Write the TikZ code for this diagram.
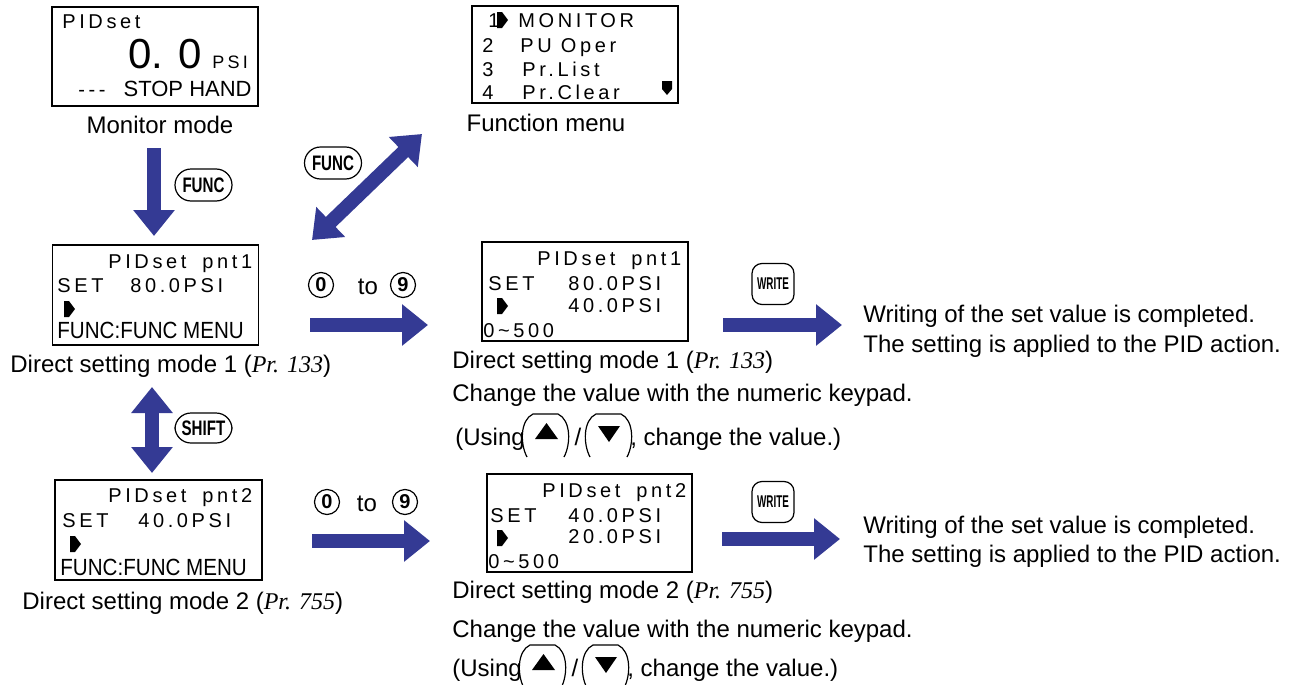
\documentclass[tikz,border=0pt]{standalone}
\usepackage{fontspec}
\setmainfont{Liberation Sans}
\newfontfamily\lcdfont[LetterSpace=18]{Liberation Sans}
\newfontfamily\narrowfont[FakeStretch=0.88]{Liberation Sans}
\newfontfamily\keyfont[FakeStretch=0.72]{Liberation Sans}
\newfontfamily\writefont[FakeStretch=0.58]{Liberation Sans}
\newfontfamily\prfont{Liberation Serif}
\usetikzlibrary{arrows.meta, positioning}
\definecolor{padblue}{RGB}{52,58,148}
\newcommand{\pr}[1]{{\prfont\itshape Pr. #1}}
\newcommand{\lcdptr}[2]{\fill (#1,#2-8) -- (#1+5,#2-8) -- (#1+11,#2) -- (#1+5,#2+8) -- (#1,#2+8) -- cycle;}
\tikzstyle{lcd} = [rectangle, draw=black, line width=0.9pt, minimum width=103pt, minimum height=49.5pt, inner sep=0pt]
\tikzstyle{lcdtext} = [anchor=base west, inner sep=0pt, font=\lcdfont\fontsize{10}{12}\selectfont]
\tikzstyle{menutext} = [anchor=base west, inner sep=0pt, font=\narrowfont\fontsize{11.7}{13}\selectfont]
\tikzstyle{caption} = [anchor=base west, inner sep=0pt, font=\fontsize{12}{14}\selectfont]
\tikzstyle{key} = [rectangle, rounded corners=8pt, draw=black, line width=0.6pt, inner sep=0pt, minimum width=28.5pt, minimum height=16pt, font=\keyfont\bfseries\fontsize{10.5}{12}\selectfont]
\tikzstyle{writekey} = [key, rounded corners=5pt, minimum width=21pt, minimum height=20.5pt, font=\writefont\bfseries\fontsize{8.5}{10}\selectfont]
\tikzstyle{digit} = [circle, draw=black, line width=0.6pt, inner sep=0pt, minimum size=12.5pt, font=\bfseries\fontsize{10}{12}\selectfont]
\tikzstyle{bigarrow} = [line width=7pt, draw=padblue, -{Triangle[width=20pt,length=13pt]}]
\tikzstyle{dblarrow} = [line width=7pt, draw=padblue, {Triangle[width=20pt,length=13pt]}-{Triangle[width=20pt,length=13pt]}]

\begin{document}
\begin{tikzpicture}[x=0.5pt, y=-0.5pt]
    \useasboundingbox (0,0) rectangle (1290,685);

    % monitor mode
    \node (mon) [lcd] at (155,56.5) {};
    \node (mon-a) [lcdtext] at (62,28) {PIDset};
    \node (mon-b) [anchor=base west, inner sep=0pt, font=\fontsize{21}{24}\selectfont] at (128,68) {0. 0};
    \node (mon-c) [lcdtext, font=\lcdfont\fontsize{9}{11}\selectfont] at (212,68) {PSI};
    \node (mon-d) [lcdtext] at (78,96) {-{}-{}-};
    \node (mon-e) [anchor=base east, inner sep=0pt, font=\fontsize{11}{13}\selectfont] at (252,96) {STOP HAND};
    \node (cap-mon) [caption, anchor=base] at (160,133) {Monitor mode};

    % function menu
    \node (fm) [lcd, minimum height=48.5pt] at (575,54.5) {};
    \node (fm-1) [lcdtext] at (488,27) {1};
    \lcdptr{497}{20}
    \node (fm-1t) [lcdtext] at (518,27) {MONITOR};
    \node (fm-2) [lcdtext] at (482,52) {2};
    \node (fm-2t) [lcdtext] at (520,52) {PU Oper};
    \node (fm-3) [lcdtext] at (482,76) {3};
    \node (fm-3t) [lcdtext] at (522,76) {Pr.List};
    \node (fm-4) [lcdtext] at (482,99) {4};
    \node (fm-4t) [lcdtext] at (522,99) {Pr.Clear};
    \fill (662,81) -- (672,81) -- (672,89) -- (667,95) -- (662,89) -- cycle;
    \node (cap-fm) [caption, anchor=base] at (546,131) {Function menu};

    % direct setting mode 1
    \node (s1) [lcd, minimum height=50pt] at (155.5,295) {};
    \node (s1-a) [lcdtext] at (108,268) {PIDset\hspace{8pt}pnt1};
    \node (s1-b) [lcdtext] at (57,292) {SET};
    \node (s1-c) [lcdtext] at (130,292) {80.0PSI};
    \lcdptr{64}{309}
    \node (s1-d) [menutext] at (57,338) {FUNC:FUNC MENU};
    \node (cap-s1) [caption] at (10,372) {Direct setting mode 1 (\pr{133})};

    % direct setting mode 2
    \node (s2) [lcd, minimum width=103.5pt, minimum height=50pt] at (158.5,530) {};
    \node (s2-a) [lcdtext] at (108,502) {PIDset\hspace{8pt}pnt2};
    \node (s2-b) [lcdtext] at (62,527) {SET};
    \node (s2-c) [lcdtext] at (138,527) {40.0PSI};
    \lcdptr{70}{544}
    \node (s2-d) [menutext] at (60,575) {FUNC:FUNC MENU};
    \node (cap-s2) [caption] at (22,609) {Direct setting mode 2 (\pr{755})};

    % editing pnt1
    \node (e1) [lcd] at (585,291.5) {};
    \node (e1-a) [lcdtext] at (537,265) {PIDset\hspace{8pt}pnt1};
    \node (e1-b) [lcdtext] at (488,290) {SET};
    \node (e1-c) [lcdtext] at (568,290) {80.0PSI};
    \lcdptr{497}{306}
    \node (e1-d) [lcdtext] at (568,312) {40.0PSI};
    \node (e1-e) [lcdtext] at (483,337) {0\textasciitilde500};
    \node (cap-e1) [caption] at (452,368) {Direct setting mode 1 (\pr{133})};
    \node (chg1) [caption] at (452,401) {Change the value with the numeric keypad.};

    % editing pnt2
    \node (e2) [lcd, minimum width=102.5pt, minimum height=49pt] at (589.5,523) {};
    \node (e2-a) [lcdtext] at (542,497) {PIDset\hspace{8pt}pnt2};
    \node (e2-b) [lcdtext] at (490,522) {SET};
    \node (e2-c) [lcdtext] at (568,522) {40.0PSI};
    \lcdptr{497}{538}
    \node (e2-d) [lcdtext] at (568,543) {20.0PSI};
    \node (e2-e) [lcdtext] at (488,568) {0\textasciitilde500};
    \node (cap-e2) [caption] at (452,598) {Direct setting mode 2 (\pr{755})};
    \node (chg2) [caption] at (452,637) {Change the value with the numeric keypad.};

    % (Using up / down ...)
    \foreach \n/\dx/\dy in {1/0/0, 2/-3/231} {
        \begin{scope}[shift={(\dx,\dy)}]
            \node (use\n) [caption] at (455,445) {(Using};
            \draw [line width=0.6pt] (527,457) .. controls (520,444) and (520,420) .. (533,414) -- (558,414) .. controls (571,420) and (571,444) .. (564,457);
            \fill (535,439) -- (558,439) -- (546.5,423) -- cycle;
            \node (sl\n) [caption, anchor=base] at (578,445) {/};
            \draw [line width=0.6pt] (590,457) .. controls (583,444) and (583,420) .. (596,414) -- (621,414) .. controls (634,420) and (634,444) .. (627,457);
            \fill (598,426) -- (620,426) -- (609,442) -- cycle;
            \node (cv\n) [caption] at (630,445) {, change the value.)};
        \end{scope}
    }

    % result texts
    \node (done1) [caption] at (863,322) {Writing of the set value is completed.};
    \node (pid1) [caption] at (863,352) {The setting is applied to the PID action.};
    \node (done2) [caption] at (863,533) {Writing of the set value is completed.};
    \node (pid2) [caption] at (863,562) {The setting is applied to the PID action.};

    % keys
    \node (func1) [key] at (203.5,185) {FUNC};
    \node (func2) [key] at (333,163) {FUNC};
    \node (shift) [key, minimum height=15pt] at (203.5,428) {SHIFT};
    \node (wr1) [writekey] at (773,284) {WRITE};
    \node (wr2) [writekey] at (773,502) {WRITE};
    \node (z1) [digit] at (321,285) {0};
    \node (to1) [font=\fontsize{12}{14}\selectfont, inner sep=0pt] at (368,287) {to};
    \node (n1) [digit] at (403,285) {9};
    \node (z2) [digit] at (327,502) {0};
    \node (to2) [font=\fontsize{12}{14}\selectfont, inner sep=0pt] at (367,504) {to};
    \node (n2) [digit] at (405,502) {9};

    % arrows
    \coordinate (a1s) at (154,148);
    \coordinate (a1e) at (154,236);
    \coordinate (d1) at (312,240);
    \coordinate (d2) at (422,134);
    \coordinate (h1) at (152,387);
    \coordinate (h2) at (152,473);
    \coordinate (r1s) at (310,325);
    \coordinate (r1e) at (428,325);
    \coordinate (r2s) at (723,325);
    \coordinate (r2e) at (842,325);
    \coordinate (r3s) at (312,541);
    \coordinate (r3e) at (430,541);
    \coordinate (r4s) at (722,539);
    \coordinate (r4e) at (840,539);
    \draw [bigarrow] (a1s) -- (a1e);
    \draw [dblarrow] (d1) -- (d2);
    \draw [dblarrow] (h1) -- (h2);
    \foreach \i/\j in {r1s/r1e, r2s/r2e, r3s/r3e, r4s/r4e} {
        \draw [bigarrow] (\i) -- (\j);
    }
\end{tikzpicture}
\end{document}
